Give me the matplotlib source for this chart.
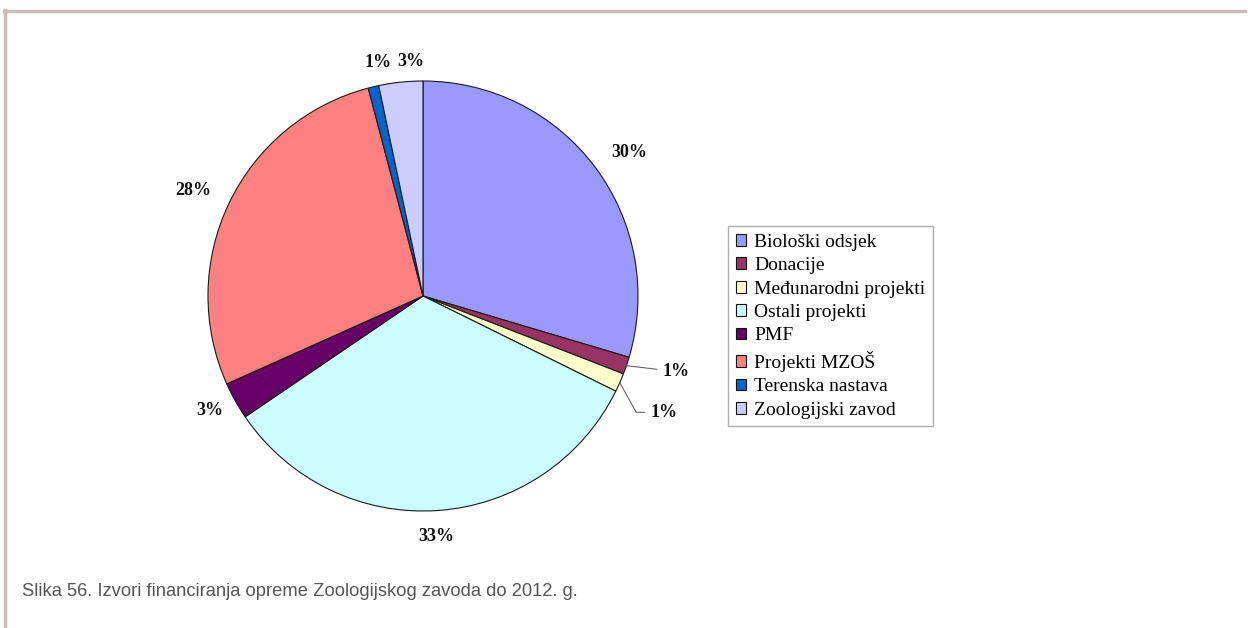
import numpy as np
import matplotlib
matplotlib.use("Agg")
import matplotlib.pyplot as plt
from matplotlib.patches import Patch
from matplotlib.lines import Line2D

# data
categories = [
    "Biološki odsjek",
    "Donacije",
    "Međunarodni projekti",
    "Ostali projekti",
    "PMF",
    "Projekti MZOŠ",
    "Terenska nastava",
    "Zoologijski zavod",
]
shares = [29.6, 1.3, 1.4, 33.2, 2.8, 27.6, 0.8, 3.3]
colors = ["#9999FF", "#993366", "#FFFFCC", "#CCFFFF", "#660066", "#FF8080", "#0066CC", "#CCCCFF"]
caption = "Slika 56. Izvori financiranja opreme Zoologijskog zavoda do 2012. g."

# label layout: distance from centre (in radii) and angular nudge (deg)
label_r = [1.17, 1.23, 1.245, 1.118, 1.126, 1.178, 1.108, 1.09]
label_shift = [-2.0, 2.3, -2.0, -0.8, -0.8, 0.9, -2.4, -3.0]

fig = plt.figure(figsize=(12.48, 6.28), dpi=100)
fig.patch.set_facecolor("white")

# page frame (top and left rules)
frame_col = "#c9bfb8"
fig.add_artist(Line2D([4 / 1248, 1245 / 1248], [1 - 11 / 628, 1 - 11 / 628],
                      color=frame_col, lw=2.5, transform=fig.transFigure))
fig.add_artist(Line2D([5 / 1248, 5 / 1248], [1 - 10 / 628, 0],
                      color=frame_col, lw=2.5, transform=fig.transFigure))

# pie axes: centre (423, 296) px, radius 215 px
cx, cy, rad = 423, 296, 215
ax = fig.add_axes([(cx - rad) / 1248, (628 - cy - rad) / 628, 2 * rad / 1248, 2 * rad / 628])
wedges, _ = ax.pie(shares, colors=colors, startangle=90, counterclock=False, radius=1.0,
                   wedgeprops=dict(edgecolor="#1a1a1a", linewidth=0.8))
ax.set_xlim(-1, 1)
ax.set_ylim(-1, 1)
ax.set_aspect("equal")
ax.axis("off")

label_font = dict(family=["Liberation Serif", "DejaVu Serif"], fontsize=13, fontweight="bold", color="#111111")

for i, w in enumerate(wedges):
    mid = (w.theta1 + w.theta2) / 2.0
    txt = "%d%%" % round(shares[i])
    ang = np.deg2rad(mid + label_shift[i])
    lx, ly = label_r[i] * np.cos(ang), label_r[i] * np.sin(ang)
    ex, ey = np.cos(np.deg2rad(mid)), np.sin(np.deg2rad(mid))
    if i == 1:
        ax.annotate(txt, xy=(ex, ey), xytext=(lx - 0.065, ly), ha="left", va="center",
                    annotation_clip=False,
                    arrowprops=dict(arrowstyle="-", color="#666666", lw=0.8, shrinkA=2, shrinkB=0),
                    **label_font)
    elif i == 2:
        ax.annotate(txt, xy=(ex, ey), xytext=(lx - 0.065, ly), ha="left", va="center",
                    annotation_clip=False,
                    arrowprops=dict(arrowstyle="-", color="#666666", lw=0.8, shrinkA=2, shrinkB=0,
                                    connectionstyle="angle,angleA=0,angleB=-61,rad=0"),
                    **label_font)
    else:
        ax.text(lx, ly, txt, ha="center", va="center", **label_font)

# legend
handles = [Patch(facecolor=c, edgecolor="#111111", linewidth=0.8) for c in colors]
leg = fig.legend(handles, categories, loc="upper left",
                 bbox_to_anchor=(728 / 1248, 1 - 226 / 628), bbox_transform=fig.transFigure,
                 prop=dict(family=["Liberation Serif", "DejaVu Serif"], size=14),
                 handlelength=0.55, handleheight=0.55, handletextpad=0.4,
                 labelspacing=0.33, borderpad=0.4, borderaxespad=0,
                 fancybox=False, frameon=True)
leg.get_frame().set_edgecolor("#999999")
leg.get_frame().set_linewidth(1.0)

fig.text(22 / 1248, 1 - 591 / 628, caption, ha="left", va="center",
         family=["Liberation Sans Narrow", "Liberation Sans", "DejaVu Sans"],
         fontsize=13.2, color="#555555")

fig.savefig("out.png", dpi=100, facecolor="white")
